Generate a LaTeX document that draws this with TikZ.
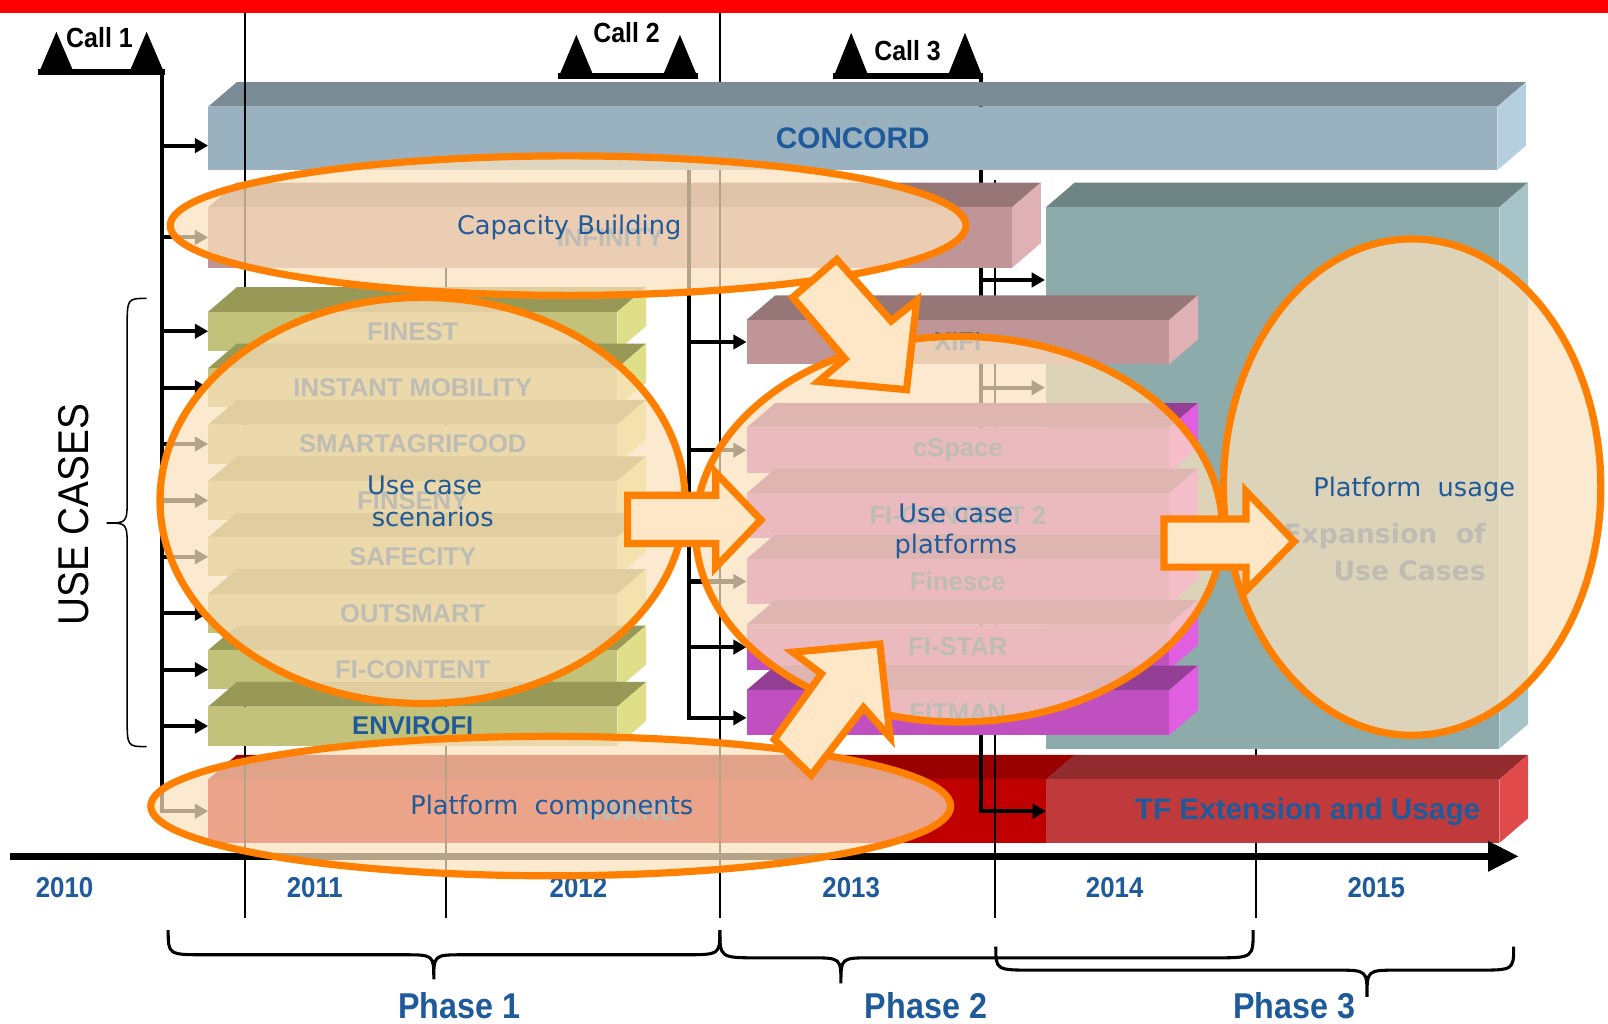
\documentclass[tikz,border=0pt]{standalone}
\usepackage{fontspec}
\setmainfont{Liberation Sans}
\newfontfamily\narrowfont[FakeStretch=0.9]{Liberation Sans}
\newfontfamily\verdfont{DejaVu Sans}
\usetikzlibrary{arrows.meta,shapes.geometric}

\definecolor{tblue}{HTML}{1F5A9A}
\definecolor{topred}{HTML}{FF0000}
\definecolor{concF}{HTML}{9AB2C0}
\definecolor{concT}{HTML}{7A8B96}
\definecolor{concS}{HTML}{B5CFDF}
\definecolor{roseF}{HTML}{C09598}
\definecolor{roseT}{HTML}{977677}
\definecolor{roseS}{HTML}{DFB1B4}
\definecolor{tealF}{HTML}{8DABAB}
\definecolor{tealT}{HTML}{6F8485}
\definecolor{tealS}{HTML}{A7C5C8}
\definecolor{oliveF}{HTML}{C2C27A}
\definecolor{oliveT}{HTML}{999957}
\definecolor{oliveS}{HTML}{DEDF88}
\definecolor{magF}{HTML}{C050C0}
\definecolor{magT}{HTML}{953E95}
\definecolor{magS}{HTML}{E05EE0}
\definecolor{redF}{HTML}{C00000}
\definecolor{redT}{HTML}{990000}
\definecolor{tfF}{HTML}{C03A3C}
\definecolor{tfT}{HTML}{922B2D}
\definecolor{tfS}{HTML}{E04A4A}
\definecolor{peach}{HTML}{FCE3BE}
\definecolor{orng}{HTML}{FF8000}
\definecolor{arrowfill}{HTML}{FDE7C6}

\tikzset{
  barlabel/.style={inner sep=0pt, text=tblue, font=\bfseries\fontsize{25}{30}\selectfont},
  callarrow/.style={line width=4pt, -{Triangle[length=13pt,width=14pt]}},
  yearline/.style={line width=1.5pt},
  bubble/.style={ellipse, inner sep=0pt, fill=peach, fill opacity=0.72, draw=orng, line width=7pt},
  bubbletext/.style={text=tblue, font=\verdfont\fontsize{25}{31}\selectfont, align=center},
  blockarrow/.style={fill=arrowfill, draw=orng, line width=7pt, line join=miter},
  yearlabel/.style={text=tblue, font=\narrowfont\bfseries\fontsize{28}{32}\selectfont},
  phaselabel/.style={text=tblue, font=\narrowfont\bfseries\fontsize{35}{40}\selectfont, anchor=base},
  calllabel/.style={font=\narrowfont\bfseries\fontsize{27}{30}\selectfont, inner sep=0pt},
  bracepath/.style={line width=3pt},
}

% #1 name, #2 x1, #3 y1, #4 x2, #5 y2, #6 front, #7 top, #8 side, #9 label
\newcommand\drawbar[9]{%
  \fill[#7] (#2,#3) -- (#2+28,#3-24) -- (#4+28,#3-24) -- (#4,#3) -- cycle;
  \fill[#6] (#2,#3) rectangle (#4,#5);
  \fill[#8] (#4,#3) -- (#4+28,#3-24) -- (#4+28,#5-24) -- (#4,#5) -- cycle;
  \coordinate (W-#1) at (#2,{(#3+#5)/2});
  \node[barlabel] (#1) at ({(#2+#4)/2},{(#3+#5)/2}) {#9};
}
% #1 name, #2 xl, #3 xr, #4 yapex, #5 ybase, #6 label x, #7 label y, #8 text
\newcommand\callmark[8]{%
  \fill (#2,#5) -- (#2+18,#4) -- (#2+36,#5) -- cycle;
  \fill (#3-36,#5) -- (#3-18,#4) -- (#3,#5) -- cycle;
  \fill (#2,#5-6) rectangle (#3,#5);
  \node[calllabel] (#1) at (#6,#7) {#8};
}

\begin{document}
\begin{tikzpicture}[x=1pt,y=-1pt]
\useasboundingbox (0,0) rectangle (1568,998);
\fill[white] (0,0) rectangle (1568,998);
\fill[topred] (0,0) rectangle (1568,13);

% year line hidden by TF bar
\draw[yearline] (1225,730) -- (1225,895);
\draw[yearline] (702,13) -- (702,82);

% bottom red bars
\drawbar{fiware}{203}{760}{1020}{822}{redF}{redT}{redT}{FIWARE}
\drawbar{tf}{1020}{760}{1462}{822}{tfF}{tfT}{tfS}{}
\node[barlabel, font=\bfseries\fontsize{29}{34}\selectfont] (tflabel) at (1275,792) {TF Extension and Usage};

% call 3 line (behind upper bars)
\coordinate (c3top) at (957,77);
\coordinate (tealA) at (1019,273);
\coordinate (tealB) at (1019,378);
\draw[callarrow] (c3top) |- (W-tf);
\draw[callarrow] (c3top |- tealA) -- (tealA);
\draw[callarrow] (c3top |- tealB) -- (tealB);
\draw[yearline] (970,176) -- (970,895);

% upper bars
\drawbar{concord}{203}{104}{1460}{166}{concF}{concT}{concS}{\fontsize{29}{34}\selectfont CONCORD}
\drawbar{infinity}{203}{202}{987}{261}{roseF}{roseT}{roseS}{INFINITY}
\drawbar{teal}{1020}{202}{1462}{730}{tealF}{tealT}{tealS}{}

% year lines
\draw[yearline] (239,13) -- (239,895);
\draw[yearline] (435,261) -- (435,895);
\draw[yearline] (702,166) -- (702,895);

% use case bars
\foreach \nm/\lb [count=\i from 0] in {finest/FINEST, instant/INSTANT MOBILITY, smart/SMARTAGRIFOOD, finseny/FINSENY, safecity/SAFECITY, outsmart/OUTSMART, ficontent/FI-CONTENT, envirofi/ENVIROFI}{
  \pgfmathsetmacro\cy{323+55*\i}
  \drawbar{\nm}{203}{\cy-19}{602}{\cy+19}{oliveF}{oliveT}{oliveS}{\lb}
}
\drawbar{xifi}{728}{312}{1140}{355}{roseF}{roseT}{roseS}{XIFI}
\foreach \nm/\lb [count=\i from 0] in {cspace/cSpace, ficontenttwo/FI-CONTENT 2, finesce/Finesce, fistar/FI-STAR, fitman/FITMAN}{
  \pgfmathsetmacro\cy{439+64*\i}
  \drawbar{\nm}{728}{\cy-22}{1140}{\cy+22}{magF}{magT}{magS}{\lb}
}

% call 2 line
\coordinate (c2s) at (672,166);
\coordinate (W-fitmanL) at ([yshift=-5pt]W-fitman);
\draw[callarrow] (c2s) |- (W-fitmanL);
\foreach \tg in {xifi, cspace, finesce, fistar}
  \draw[callarrow] (c2s |- W-\tg) -- (W-\tg);

% call 1 line
\coordinate (c1top) at (158,73);
\coordinate (W-concordA) at ([yshift=-7pt]W-concord);
\draw[callarrow] (c1top) |- (W-fiware);
\foreach \tg in {concordA, infinity, finest, instant, smart, finseny, safecity, outsmart, ficontent, envirofi}
  \draw[callarrow] (c1top |- W-\tg) -- (W-\tg);

% faded label on teal block
\node[text=tblue, font=\verdfont\bfseries\fontsize{26}{36}\selectfont, align=right, anchor=east, inner sep=0pt] (expansion) at (1449,538) {Expansion\ \ of\\Use Cases};

% time axis
\coordinate (ax0) at (10,835);
\coordinate (ax1) at (1481,835);
\draw[line width=7pt, -{Triangle[length=30pt,width=28pt]}] (ax0) -- (ax1);

\foreach \yr/\xx in {2010/63, 2011/307, 2012/564, 2013/830, 2014/1087, 2015/1342}
  \node[yearlabel] (y\yr) at (\xx,866) {\yr};

% bubbles
\node[bubble, minimum width=776, minimum height=136] (capacity) at (554,220) {};
\node[bubble, minimum width=512, minimum height=396] (scenarios) at (412,488) {};
\node[bubble, minimum width=514, minimum height=376] (platforms) at (935,516) {};
\node[bubble, minimum width=368, minimum height=484] (usage) at (1377,475) {};
\node[bubble, minimum width=780, minimum height=136] (components) at (537,786) {};

\node[bubbletext] (tcap) at (555,222) {Capacity Building};
\node[bubbletext] (tscen) at (414,489) {Use case\\\ \ scenarios};
\node[bubbletext] (tplat) at (932,518) {Use case\\platforms};
\node[bubbletext] (tusage) at (1379,477) {Platform\ \ usage};
\node[bubbletext] (tcomp) at (538,787) {Platform\ \ components};

% block arrows
\draw[blockarrow] (612,483) -- (698,483) -- (698,461) -- (742,507) -- (698,553) -- (698,530) -- (612,530) -- cycle;
\draw[blockarrow] (1135,506) -- (1215,506) -- (1215,479) -- (1262,528) -- (1215,576) -- (1215,553) -- (1135,553) -- cycle;
\draw[blockarrow] (816,253) -- (869,313) -- (894,293) -- (884,380) -- (798,372) -- (824,350) -- (773,290) -- cycle;
\draw[blockarrow] (755,721) -- (801,657) -- (773,636) -- (858,628) -- (868,719) -- (842,690) -- (791,756) -- cycle;

% phase braces
\draw[bracepath] (164,907) .. controls (164,931) .. (200,931) -- (393,931) .. controls (423,931) .. (423,955) .. controls (423,931) .. (453,931) -- (667,931) .. controls (702,931) .. (702,907);
\draw[bracepath] (702,907) .. controls (702,934) .. (740,934) -- (790,934) .. controls (820,934) .. (820,959) .. controls (820,934) .. (850,934) -- (1185,934) .. controls (1222,934) .. (1222,907);
\draw[bracepath] (971,923) .. controls (971,946) .. (1008,946) -- (1303,946) .. controls (1333,946) .. (1333,972) .. controls (1333,946) .. (1363,946) -- (1440,946) .. controls (1476,946) .. (1476,923);

\node[phaselabel] (ph1) at (448,993) {Phase 1};
\node[phaselabel] (ph2) at (903,993) {Phase 2};
\node[phaselabel] (ph3) at (1262,993) {Phase 3};

% call markers
\callmark{call1}{37}{161}{31}{73}{97}{37}{Call 1}
\callmark{call2}{544}{681}{34}{77}{611}{32}{Call 2}
\callmark{call3}{812}{959}{32}{77}{885}{49}{Call 3}

% use cases label and brace
\node[rotate=90, font=\narrowfont\fontsize{42}{48}\selectfont, inner sep=0pt] (usecases) at (72,502) {USE CASES};
\draw[line width=1.5pt] (143,291) .. controls (124,291) .. (124,320) -- (124,485) .. controls (124,510) .. (104,510) .. controls (124,510) .. (124,535) -- (124,700) .. controls (124,728) .. (143,728);

\end{tikzpicture}
\end{document}
